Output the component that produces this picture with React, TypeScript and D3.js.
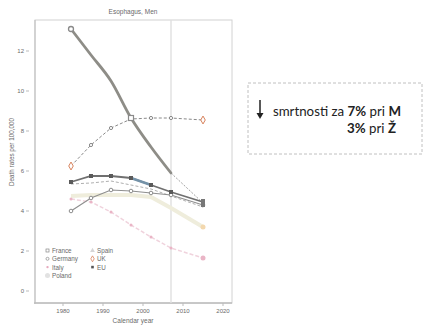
import React from "react";
import * as d3 from "d3";

const years = [1982, 1987, 1992, 1997, 2002, 2007, 2015];
const france = [13.1, 11.8, 10.5, 8.65, 7.2, 5.9, 4.4];
const germany = [4.0, 4.65, 5.05, 5.0, 4.9, 4.8, 4.3];
const italy = [4.6, 4.45, 3.95, 3.3, 2.7, 2.15, 1.65];
const poland = [5.35, 5.4, 5.5, 5.3, 5.1, 4.75, 4.2];
const spain = [4.75, 4.8, 4.8, 4.8, 4.7, 4.15, 3.2];
const uk = [6.25, 7.3, 8.15, 8.6, 8.65, 8.65, 8.55];
const eu = [5.45, 5.75, 5.75, 5.65, 5.3, 4.95, 4.45];
const yTicks = [0, 2, 4, 6, 8, 10, 12];
const xTicks = [1980, 1990, 2000, 2010, 2020];
const refYear = 2007;

const legendCol1 = ["France", "Germany", "Italy", "Poland"];
const legendCol2 = ["Spain", "UK", "EU"];

export default function App() {
  const x = d3.scaleLinear().domain([1980, 2020]).range([63, 223]);
  const y = d3.scaleLinear().domain([0, 12]).range([291, 51]);
  const line = d3
    .line<number>()
    .x((_, i) => x(years[i]))
    .y((d) => y(d));
  const curve = d3
    .line<number>()
    .x((_, i) => x(years[i]))
    .y((d) => y(d))
    .curve(d3.curveMonotoneX);

  const tc = "#6a6a6a";
  const font = "Liberation Sans, Arial, sans-serif";

  return (
    <svg width={424} height={325} style={{ position: "absolute", left: 0, top: 0 }} fontFamily={font}>
      <rect x={0} y={0} width={424} height={325} fill="#fff" />
      {/* frame */}
      <rect x={35} y={20} width={197} height={283} fill="none" stroke="#d2d2d2" strokeWidth={1} />
      <line x1={35} x2={35} y1={20} y2={304} stroke="#bdbdbd" />
      <line x1={34} x2={232} y1={303} y2={303} stroke="#bdbdbd" strokeWidth={1.3} />
      <line x1={x(refYear)} x2={x(refYear)} y1={20} y2={303} stroke="#e0e0e0" strokeWidth={1.4} />
      <text x={133} y={14} textAnchor="middle" fontSize={6.5} fill={tc}>Esophagus, Men</text>
      {yTicks.map((t) => (
        <g key={t}>
          <line x1={26} x2={29} y1={y(t)} y2={y(t)} stroke="#bbb" />
          <text x={24} y={y(t) + 2} textAnchor="end" fontSize={6} fill={tc}>{t}</text>
        </g>
      ))}
      {xTicks.map((t) => (
        <g key={t}>
          <line x1={x(t)} x2={x(t)} y1={303} y2={306} stroke="#bbb" />
          <text x={x(t)} y={313} textAnchor="middle" fontSize={6} fill={tc}>{t}</text>
        </g>
      ))}
      <text transform="translate(14,152) rotate(-90)" textAnchor="middle" fontSize={6.3} fill={tc}>
        Death rates per 100,000
      </text>
      <text x={133} y={323} textAnchor="middle" fontSize={6.5} fill={tc}>Calendar year</text>

      {/* Spain pale band */}
      <path d={line(spain) || ""} fill="none" stroke="#efeddc" strokeWidth={4} />
      <circle cx={x(years[6])} cy={y(spain[6])} r={2.5} fill="#f3d8ae" />
      {/* Italy */}
      <path d={line(italy) || ""} fill="none" stroke="#f0d3dd" strokeWidth={1.5} strokeDasharray="4,2" />
      {italy.map((v, i) => (
        <circle key={i} cx={x(years[i])} cy={y(v)} r={i === 6 ? 2.5 : 1.5} fill="#eab5c6" />
      ))}
      {/* Poland dashed */}
      <path d={line(poland) || ""} fill="none" stroke="#999" strokeWidth={0.8} strokeDasharray="3,2" />
      {/* Germany */}
      <path d={line(germany) || ""} fill="none" stroke="#8f8f8f" strokeWidth={1.2} />
      {germany.map((v, i) => (
        <circle key={i} cx={x(years[i])} cy={y(v)} r={1.8} fill="#fff" stroke="#8c8c8c" strokeWidth={1} />
      ))}
      {/* EU */}
      <path d={line(eu) || ""} fill="none" stroke="#707070" strokeWidth={1.8} />
      <line x1={x(years[3])} y1={y(eu[3])} x2={x(years[4])} y2={y(eu[4])} stroke="#7492a8" strokeWidth={2.5} />
      {eu.map((v, i) => (
        <rect key={i} x={x(years[i]) - 2} y={y(v) - 2} width={4} height={4} fill="#5a5a5a" />
      ))}
      {/* UK */}
      <path d={line(uk) || ""} fill="none" stroke="#7c7c7c" strokeWidth={0.9} strokeDasharray="3,2" />
      {uk.map((v, i) =>
        i === 0 || i === 6 ? (
          <path key={i} d={d3.symbol(d3.symbolDiamond, 18)() || ""} transform={`translate(${x(years[i])},${y(v)})`} fill="#fff" stroke="#d8825c" strokeWidth={1} />
        ) : (
          <circle key={i} cx={x(years[i])} cy={y(v)} r={1.6} fill="#fff" stroke="#7c7c7c" strokeWidth={0.9} />
        )
      )}
      {/* France thick */}
      <path d={curve(france.slice(0, 6)) || ""} fill="none" stroke="#8e8d87" strokeWidth={2.8} strokeLinecap="round" />
      <line x1={x(years[5])} y1={y(france[5])} x2={x(years[6])} y2={y(france[6])} stroke="#8a8a8a" strokeWidth={0.8} strokeDasharray="2,1.5" />
      <circle cx={x(years[0])} cy={y(france[0])} r={2.5} fill="#fff" stroke="#8a8a8a" strokeWidth={1.3} />
      <rect x={x(years[3]) - 2.5} y={y(france[3]) - 2.5} width={5} height={5} fill="#fff" stroke="#8a8a8a" strokeWidth={1.2} />
      <rect x={x(years[6]) - 2} y={y(france[6]) - 4} width={4} height={8} fill="#777" />

      {/* legend */}
      {legendCol1.map((name, i) => {
        const ly = 253 + i * 8.3;
        return (
          <g key={name}>
            {i === 0 && <rect x={46} y={ly - 4} width={3} height={3} fill="none" stroke="#888" strokeWidth={0.7} />}
            {i === 1 && <circle cx={47.5} cy={ly - 2.5} r={1.5} fill="none" stroke="#888" strokeWidth={0.7} />}
            {i === 2 && <circle cx={47.5} cy={ly - 2.5} r={1.2} fill="#e6a9bd" />}
            {i === 3 && <circle cx={47.5} cy={ly - 2.5} r={2.5} fill="#e2e2e2" />}
            <text x={52} y={ly} fontSize={6.3} fill={tc}>{name}</text>
          </g>
        );
      })}
      {legendCol2.map((name, i) => {
        const ly = 253 + i * 8.3;
        return (
          <g key={name}>
            {i === 0 && <path d={d3.symbol(d3.symbolTriangle, 10)() || ""} transform={`translate(92.5,${ly - 2.5})`} fill="#d6d6d6" />}
            {i === 1 && <path d={d3.symbol(d3.symbolDiamond, 10)() || ""} transform={`translate(92.5,${ly - 2.5})`} fill="none" stroke="#d8825c" strokeWidth={0.8} />}
            {i === 2 && <rect x={91.2} y={ly - 3.8} width={2.6} height={2.6} fill="#555" />}
            <text x={97} y={ly} fontSize={6.3} fill={tc}>{name}</text>
          </g>
        );
      })}

      {/* annotation box */}
      <rect x={248} y={83} width={174} height={71} fill="#fff" stroke="#b0b0b0" strokeWidth={0.8} strokeDasharray="3,2" />
      <line x1={260} x2={260} y1={100} y2={114} stroke="#222" strokeWidth={1.5} />
      <path d="M256.5,113 L263.5,113 L260,119 Z" fill="#222" />
      <text x={401} y={116} textAnchor="end" fontSize={13.3} fill="#222" fontFamily="Lato, Open Sans, sans-serif">
        smrtnosti za <tspan fontWeight="bold">7%</tspan> pri <tspan fontWeight="bold">M</tspan>
      </text>
      <text x={396} y={133} textAnchor="end" fontSize={13.3} fill="#222" fontFamily="Lato, Open Sans, sans-serif">
        <tspan fontWeight="bold">3%</tspan> pri <tspan fontWeight="bold">Ž</tspan>
      </text>
    </svg>
  );
}
